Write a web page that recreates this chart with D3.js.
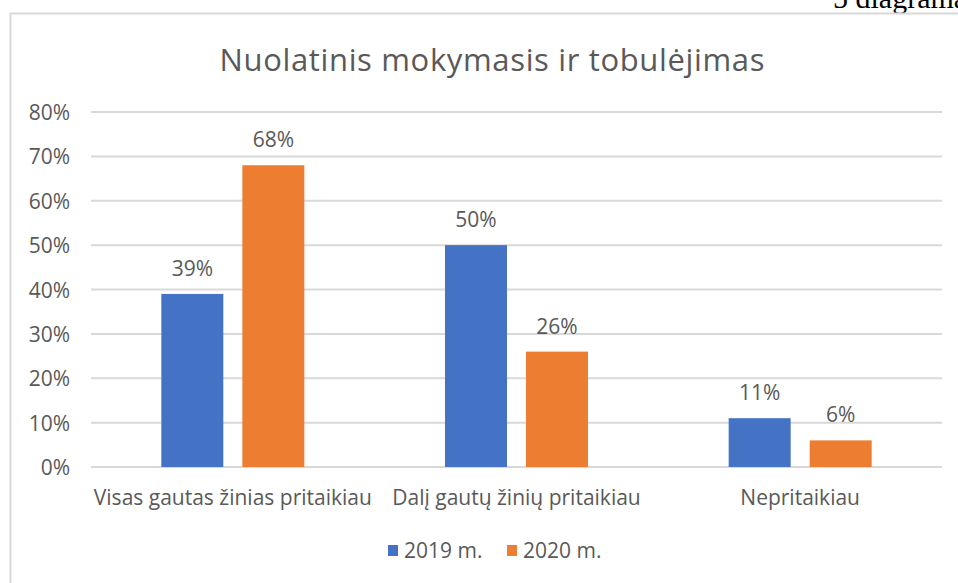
<!DOCTYPE html>
<html><head><meta charset="utf-8">
<script src="https://cdn.jsdelivr.net/npm/d3@7"></script>
<style>body{margin:0;background:#fff;}svg{display:block;}</style>
</head><body>
<svg id="c" width="958" height="583"></svg>
<script>
const categories = ["Visas gautas žinias pritaikiau", "Dalį gautų žinių pritaikiau", "Nepritaikiau"];
const seriesNames = ["2019 m.", "2020 m."];
const values2019 = [0.39, 0.50, 0.11];
const values2020 = [0.68, 0.26, 0.06];
const yTicks = [0, 0.1, 0.2, 0.3, 0.4, 0.5, 0.6, 0.7, 0.8];
const colors = ["#4472C4", "#ED7D31"];
const title = "Nuolatinis mokymasis ir tobulėjimas";

(function(){
const svg = d3.select("#c");
const txt = "#595959";
const FONT = "'Open Sans',Lato,sans-serif";
const FS = 21;

// caption above frame (cut at the top edge as in the source)
svg.append("text").attr("x", 833).attr("y", 8).attr("font-family", "'Liberation Serif',serif")
  .attr("font-size", 30).attr("fill", "#000").text("5 diagrama");

// frame
svg.append("rect").attr("x", 10.5).attr("y", 13.5).attr("width", 990).attr("height", 600)
  .attr("fill", "#fff").attr("stroke", "#d9d9d9").attr("stroke-width", 2);

const pLeft = 91, pRight = 942, pTop = 112, pBottom = 467;
const x0 = d3.scaleBand().domain(categories).range([pLeft, pRight]).paddingInner(0).paddingOuter(0);
const y = d3.scaleLinear().domain([0, 0.8]).range([pBottom, pTop]);
const x1 = d3.scaleBand().domain(seriesNames).range([0, x0.bandwidth()]).paddingInner(0.235).paddingOuter(0.868);

// gridlines
svg.append("g").selectAll("line").data(yTicks).join("line")
  .attr("x1", pLeft).attr("x2", pRight).attr("y1", d => y(d)).attr("y2", d => y(d))
  .attr("stroke", "#d9d9d9").attr("stroke-width", 2);

// y axis labels
const yAxis = d3.axisLeft(y).tickValues(yTicks).tickFormat(d3.format(".0%")).tickSize(0).tickPadding(0);
const ya = svg.append("g").attr("transform", `translate(70,0)`).call(yAxis)
  .attr("font-family", FONT).attr("font-size", FS);
ya.select(".domain").remove();
ya.selectAll("text").attr("fill", txt).attr("dy", "0.36em");

const data = categories.map((c, i) => ({c, vals: [values2019[i], values2020[i]]}));
const g = svg.append("g").attr("font-family", FONT);
data.forEach(d => {
  d.vals.forEach((v, j) => {
    const xx = x0(d.c) + x1(seriesNames[j]);
    g.append("rect").attr("x", xx).attr("y", y(v)).attr("width", x1.bandwidth()).attr("height", y(0) - y(v))
      .attr("fill", colors[j]);
    g.append("text").attr("x", xx + x1.bandwidth() / 2).attr("y", y(v) - 18)
      .attr("text-anchor", "middle").attr("font-size", FS).attr("fill", txt)
      .text(d3.format(".0%")(v));
  });
});

// x axis labels
const xAxis = d3.axisBottom(x0).tickSize(0).tickPadding(0);
const xa = svg.append("g").attr("transform", `translate(0,${pBottom})`).call(xAxis)
  .attr("font-family", FONT).attr("font-size", FS);
xa.select(".domain").remove();
xa.selectAll("text").attr("fill", txt).attr("y", 38).attr("dy", 0);

// title
svg.append("text").attr("x", 492).attr("y", 71).attr("text-anchor", "middle")
  .attr("font-family", FONT).attr("font-size", 31).attr("fill", txt)
  .attr("textLength", 545).attr("lengthAdjust", "spacing").text(title);

// legend
const legX = [388, 507];
const lg = svg.append("g").attr("font-family", FONT);
seriesNames.forEach((s, j) => {
  lg.append("rect").attr("x", legX[j]).attr("y", 545).attr("width", 10).attr("height", 11).attr("fill", colors[j]);
  lg.append("text").attr("x", legX[j] + 16).attr("y", 558).attr("font-size", FS).attr("fill", txt).text(s);
});
})();
</script>
</body></html>
